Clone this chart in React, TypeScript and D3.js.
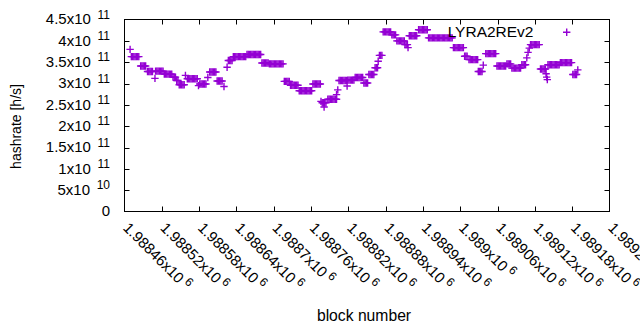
import React from "react";
import * as d3 from "d3";

const WIDTH = 640;
const HEIGHT = 330;

const seriesName = "LYRA2REv2";
const xTitle = "block number";
const yTitle = "hashrate [h/s]";

const xTicks = [1988460, 1988520, 1988580, 1988640, 1988700, 1988760, 1988820, 1988880, 1988940, 1989000, 1989060, 1989120, 1989180, 1989240];
const xTickMantissas = ["1.98846x10", "1.98852x10", "1.98858x10", "1.98864x10", "1.9887x10", "1.98876x10", "1.98882x10", "1.98888x10", "1.98894x10", "1.989x10", "1.98906x10", "1.98912x10", "1.98918x10", "1.98924x10"];
const xTickExponents = ["6", "6", "6", "6", "6", "6", "6", "6", "6", "6", "6", "6", "6", "6"];

const yTicks = [0, 0.5e11, 1e11, 1.5e11, 2e11, 2.5e11, 3e11, 3.5e11, 4e11, 4.5e11];
const yTickMantissas = ["0", "5x10", "1x10", "1.5x10", "2x10", "2.5x10", "3x10", "3.5x10", "4x10", "4.5x10"];
const yTickExponents = ["", "10", "11", "11", "11", "11", "11", "11", "11", "11"];

// [hashrate, blocks having that hashrate]
const hashrateRuns: [number, number[]][] = [
  [3.80e11, [1988469]],
  [3.63e11, [1988471, 1988473, 1988475, 1988477, 1988479, 1988481, 1988483]],
  [3.41e11, [1988486, 1988488, 1988490, 1988492, 1988494]],
  [3.28e11, [1988497, 1988499, 1988501, 1988503, 1988505]],
  [3.12e11, [1988509]],
  [3.29e11, [1988510, 1988512, 1988514, 1988516, 1988518, 1988520, 1988522]],
  [3.22e11, [1988524, 1988526, 1988528, 1988530, 1988532, 1988534, 1988536]],
  [3.15e11, [1988538, 1988540, 1988542]],
  [3.07e11, [1988544, 1988546]],
  [2.97e11, [1988548, 1988550, 1988552, 1988554, 1988556]],
  [3.19e11, [1988558]],
  [3.11e11, [1988561, 1988563, 1988565, 1988567, 1988569, 1988571, 1988573, 1988575, 1988577]],
  [2.95e11, [1988579]],
  [2.99e11, [1988581, 1988583, 1988585, 1988587, 1988589, 1988591]],
  [3.14e11, [1988594]],
  [3.27e11, [1988597, 1988599, 1988601, 1988603, 1988605, 1988607]],
  [3.06e11, [1988609, 1988611, 1988613, 1988615, 1988617]],
  [2.93e11, [1988620]],
  [3.38e11, [1988625]],
  [3.54e11, [1988627, 1988629, 1988631, 1988633]],
  [3.63e11, [1988635, 1988637, 1988639, 1988641, 1988643, 1988645, 1988647, 1988649, 1988651, 1988653, 1988655]],
  [3.68e11, [1988657, 1988659, 1988661, 1988663, 1988665, 1988667, 1988669, 1988671, 1988673, 1988675, 1988677, 1988679]],
  [3.48e11, [1988681, 1988683, 1988685, 1988687, 1988689, 1988691]],
  [3.46e11, [1988693, 1988695, 1988697, 1988699, 1988701, 1988703, 1988705, 1988707, 1988709, 1988711, 1988713, 1988715]],
  [3.05e11, [1988717, 1988719, 1988721, 1988723, 1988725]],
  [2.96e11, [1988727, 1988729, 1988731, 1988733, 1988735, 1988737, 1988739]],
  [2.83e11, [1988741, 1988743, 1988745, 1988747, 1988749, 1988751, 1988753, 1988755, 1988757, 1988759, 1988761]],
  [2.99e11, [1988763, 1988765, 1988767, 1988769, 1988771, 1988773, 1988775]],
  [2.58e11, [1988776]],
  [2.55e11, [1988778, 1988780, 1988782, 1988784]],
  [2.45e11, [1988781]],
  [2.63e11, [1988787, 1988789, 1988791, 1988793, 1988795, 1988797, 1988799, 1988801]],
  [2.74e11, [1988801]],
  [2.85e11, [1988803]],
  [3.07e11, [1988805, 1988807, 1988809, 1988811, 1988813, 1988815, 1988817]],
  [2.94e11, [1988818]],
  [3.08e11, [1988819, 1988821, 1988823, 1988825, 1988827, 1988829]],
  [3.14e11, [1988831, 1988833, 1988835, 1988837, 1988839, 1988841, 1988843]],
  [3.01e11, [1988845, 1988847, 1988849, 1988851]],
  [3.21e11, [1988853, 1988855, 1988857, 1988859, 1988861]],
  [3.37e11, [1988863, 1988865, 1988867]],
  [3.52e11, [1988868]],
  [3.66e11, [1988870, 1988872, 1988874]],
  [4.21e11, [1988876, 1988878, 1988880, 1988882, 1988884, 1988886, 1988888]],
  [4.14e11, [1988890, 1988892, 1988894, 1988896]],
  [4.00e11, [1988898, 1988900, 1988902, 1988904, 1988906, 1988908, 1988910]],
  [3.91e11, [1988911, 1988913, 1988915]],
  [3.84e11, [1988916]],
  [4.12e11, [1988918, 1988920, 1988922, 1988924, 1988926, 1988928, 1988930]],
  [4.26e11, [1988933, 1988935, 1988937, 1988939, 1988941, 1988943, 1988945, 1988947]],
  [4.07e11, [1988949, 1988951, 1988953, 1988955, 1988957, 1988959, 1988961, 1988963, 1988965, 1988967, 1988969, 1988971, 1988973, 1988975, 1988977, 1988979, 1988981, 1988983, 1988985, 1988987]],
  [3.84e11, [1988989, 1988991, 1988993, 1988995, 1988997, 1988999, 1989001, 1989003, 1989005]],
  [3.64e11, [1989007, 1989009, 1989011]],
  [3.56e11, [1989014, 1989016, 1989018, 1989020, 1989022, 1989024, 1989026, 1989028]],
  [3.28e11, [1989029, 1989031, 1989033, 1989035]],
  [3.43e11, [1989037]],
  [3.70e11, [1989041, 1989043, 1989045, 1989047, 1989049, 1989051, 1989053, 1989055, 1989057]],
  [3.41e11, [1989059, 1989061, 1989063, 1989065, 1989067, 1989069, 1989071, 1989073]],
  [3.46e11, [1989075, 1989077, 1989079, 1989081]],
  [3.36e11, [1989083, 1989085, 1989087, 1989089, 1989091, 1989093, 1989095, 1989097]],
  [3.44e11, [1989099, 1989101, 1989103, 1989105]],
  [3.60e11, [1989107]],
  [3.73e11, [1989109]],
  [3.83e11, [1989111]],
  [3.91e11, [1989113, 1989115, 1989117, 1989119, 1989121, 1989123, 1989125, 1989127]],
  [3.34e11, [1989129, 1989131, 1989133, 1989135, 1989137]],
  [3.23e11, [1989138]],
  [3.15e11, [1989139]],
  [3.09e11, [1989140]],
  [3.44e11, [1989141, 1989143, 1989145, 1989147, 1989149, 1989151, 1989153, 1989155, 1989157, 1989159]],
  [3.49e11, [1989161, 1989163, 1989165, 1989167, 1989169, 1989171, 1989173, 1989175, 1989177, 1989179]],
  [3.21e11, [1989181, 1989183, 1989185, 1989187]],
  [3.32e11, [1989189]],
];

const COLOR = "#9400d3";
const FONT = "'Liberation Sans', Arial, sans-serif";
const PLUS = "M-3.7,0H3.7M0,-3.7V3.7";

export default function App() {
  const left = 124.5, right = 609.5, top = 19.5, bottom = 211.5;
  const x = d3.scaleLinear().domain([xTicks[0], xTicks[xTicks.length - 1]]).range([left, right]);
  const y = d3.scaleLinear().domain([yTicks[0], yTicks[yTicks.length - 1]]).range([bottom, top]);
  const tick = 5;

  const points: { b: number; v: number }[] = [];
  hashrateRuns.forEach(([v, bs]) => bs.forEach((b) => points.push({ b, v })));

  return (
    <svg width={WIDTH} height={HEIGHT} style={{ position: "absolute", left: 0, top: 0, display: "block" }} fontFamily={FONT}>
      <rect x={0} y={0} width={WIDTH} height={HEIGHT} fill="#fff" />
      {/* y ticks */}
      {yTicks.map((t, i) => (
        <g key={"yt" + i}>
          {i > 0 && i < yTicks.length - 1 && (
            <>
              <line x1={left} x2={left + tick} y1={Math.round(y(t)) + 0.5} y2={Math.round(y(t)) + 0.5} stroke="#000" />
              <line x1={right} x2={right - tick} y1={Math.round(y(t)) + 0.5} y2={Math.round(y(t)) + 0.5} stroke="#000" />
            </>
          )}
          <text x={110} y={y(t) + 4.8} textAnchor="end" fontSize={15} fill="#000" style={{ whiteSpace: "pre" }}>
            {yTickMantissas[i]}
            {yTickExponents[i] && (
              <tspan dy={-5.5} fontSize={12}>{"  " + yTickExponents[i]}</tspan>
            )}
          </text>
        </g>
      ))}
      {/* x ticks */}
      {xTicks.map((t, i) => (
        <g key={"xt" + i}>
          {i > 0 && i < xTicks.length - 1 && (
            <>
              <line x1={Math.round(x(t)) + 0.5} x2={Math.round(x(t)) + 0.5} y1={bottom} y2={bottom - tick} stroke="#000" />
              <line x1={Math.round(x(t)) + 0.5} x2={Math.round(x(t)) + 0.5} y1={top} y2={top + tick} stroke="#000" />
            </>
          )}
          <text
            transform={`translate(${x(t) + 1.5},${225}) rotate(45)`}
            dy="0.35em"
            fontSize={15}
            fill="#000"
            style={{ whiteSpace: "pre" }}
          >
            {xTickMantissas[i]}
            <tspan dy={-5.5} fontSize={12}>{" " + xTickExponents[i]}</tspan>
          </text>
        </g>
      ))}
      <rect x={left} y={top} width={right - left} height={bottom - top} fill="none" stroke="#000" strokeWidth={1} />
      {/* data */}
      <g stroke={COLOR} strokeWidth={1.4} fill="none">
        {points.map((p, i) => (
          <path key={i} d={PLUS} transform={`translate(${x(p.b)},${y(p.v)})`} />
        ))}
      </g>
      {/* legend */}
      <text x={533.5} y={37} textAnchor="end" fontSize={15.5} fill="#000">{seriesName}</text>
      <path d={PLUS} transform="translate(566.7,32.3)" stroke={COLOR} strokeWidth={1.4} fill="none" />
      {/* axis titles */}
      <text transform="translate(20.5,126.5) rotate(-90)" textAnchor="middle" fontSize={14} fill="#000">{yTitle}</text>
      <text x={364} y={321} textAnchor="middle" fontSize={15.7} fill="#000">{xTitle}</text>
    </svg>
  );
}
